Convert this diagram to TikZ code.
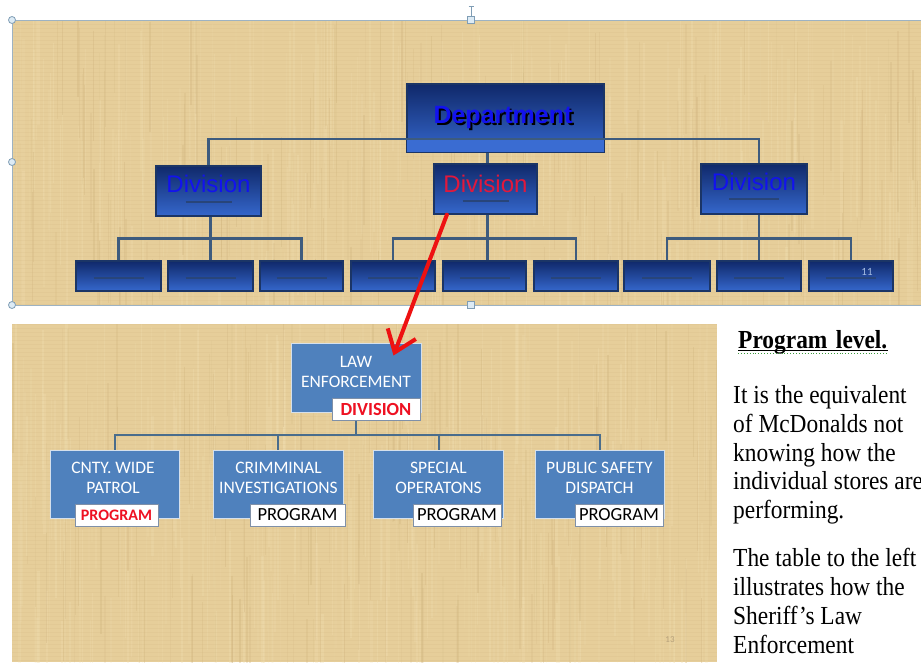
\documentclass[tikz,border=0pt]{standalone}
\usepackage{fontspec}
\setmainfont{Liberation Serif}
\newfontfamily\calfont{Carlito}
\newfontfamily\arialfont{Liberation Sans}
\usetikzlibrary{arrows.meta,calc}
\definecolor{paper}{HTML}{E6CE9A}
\definecolor{paperlight}{HTML}{F1DFB2}
\definecolor{paperdark}{HTML}{CDB07A}
\definecolor{navytop}{HTML}{10296A}
\definecolor{navybot}{HTML}{3567CC}
\definecolor{navyedge}{HTML}{1B3566}
\definecolor{deptstrip}{HTML}{3A6CD2}
\definecolor{topline}{HTML}{3D5B7E}
\definecolor{subline}{HTML}{28457A}
\definecolor{divblue}{HTML}{1212EE}
\definecolor{divred}{HTML}{E2183C}
\definecolor{stblue}{HTML}{4F81BD}
\definecolor{stedge}{HTML}{D5E0EC}
\definecolor{botline}{HTML}{4A6D8C}
\definecolor{lbledge}{HTML}{7F90A8}
\definecolor{lblred}{HTML}{EE1122}
\definecolor{arrowred}{HTML}{EE1111}
\definecolor{hdl}{HTML}{DDEBF5}
\definecolor{hdledge}{HTML}{7F9DB5}
\definecolor{frameedge}{HTML}{9DB2C2}
\definecolor{spell}{HTML}{3C9A3C}
\newcommand\mypaper[4]{%
  \begin{scope}
    \clip (#1,#2) rectangle (#3,#4);
    \fill[paper] (#1,#2) rectangle (#3,#4);
    \foreach \k in {1,...,320}{
      \pgfmathsetmacro\xx{#1+(#3-#1)*rnd}
      \pgfmathsetmacro\ww{0.5+2.0*rnd}
      \pgfmathsetmacro\oo{0.08+0.25*rnd}
      \pgfmathsetmacro\yy{#2-40+(#4-#2)*rnd}
      \draw[paperlight, line width=\ww pt, opacity=\oo] (\xx,\yy) -- (\xx,\yy+140);
    }
    \foreach \k in {1,...,160}{
      \pgfmathsetmacro\xx{#1+(#3-#1)*rnd}
      \pgfmathsetmacro\ww{0.5+1.5*rnd}
      \pgfmathsetmacro\oo{0.08+0.25*rnd}
      \pgfmathsetmacro\yy{#2-40+(#4-#2)*rnd}
      \draw[paperdark, line width=\ww pt, opacity=\oo] (\xx,\yy) -- (\xx,\yy+110);
    }
    \pgfmathtruncatemacro\nn{(#4-#2)/4}
    \foreach \j in {0,...,\nn}{
      \draw[paperdark, line width=0.6pt, opacity=0.14] (#1,#2+4*\j) -- (#3,#2+4*\j);
    }
  \end{scope}}
\begin{document}
\begin{tikzpicture}[x=1pt,y=-1pt,
  topbox/.style={draw=navyedge, line width=1.3pt, top color=navytop, bottom color=navybot, inner sep=0pt},
  divtext/.style={font=\arialfont\fontsize{24}{24}\selectfont, inner sep=0pt},
  boxline/.style={draw=subline, line width=1.8pt},
  tconn/.style={draw=topline, line width=2.4pt},
  bconn/.style={draw=botline, line width=2pt},
  stbox/.style={draw=stedge, line width=1pt, fill=stblue, inner sep=0pt},
  sttext/.style={font=\calfont\fontsize{17.5}{20}\selectfont, text=white, align=center, inner sep=0pt},
  lblbox/.style={draw=lbledge, line width=1pt, fill=white, inner sep=0pt, minimum height=22pt, font=\calfont\fontsize{18.5}{18.5}\selectfont},
  handlec/.style={circle, draw=hdledge, fill=hdl, line width=0.8pt, minimum size=7pt, inner sep=0pt},
  handles/.style={rectangle, draw=hdledge, fill=hdl, line width=0.8pt, minimum size=6.5pt, inner sep=0pt},
  bodytext/.style={anchor=base west, inner sep=0pt, font=\fontsize{26}{26}\selectfont}
]
\useasboundingbox (0,0) rectangle (921,662);
\fill[white] (0,0) rectangle (921,662);
\pgfmathsetseed{11}
% panels
\mypaper{12}{20}{921}{305}
\draw[frameedge, line width=0.8pt] (921,20) -- (12,20) -- (12,305) -- (921,305);
\mypaper{12}{324}{717}{662}

% ---- top chart ----
\coordinate (bus1) at (0,139);
\coordinate (bus2) at (0,238.5);
\node[topbox, minimum width=197pt, minimum height=68pt] (dept) at (505.5,118) {};
\fill[deptstrip] ($(dept.south west)+(0.7,-0.7)$) rectangle ($(dept.east |- bus1)+(-0.7,0)$);
\node[topbox, minimum width=105pt, minimum height=50pt] (d1) at (208.5,191) {};
\node[topbox, minimum width=103pt, minimum height=50pt] (d2) at (485.5,189) {};
\node[topbox, minimum width=106pt, minimum height=50pt] (d3) at (754,189) {};
\foreach \n/\cx/\w in {c1/118.5/85,c2/210.5/85,c3/301.5/83,c4/393/84,c5/484.5/83,c6/576/84,c7/667/86,c8/759/84,c9/851/84}{
  \node[topbox, minimum width=\w pt, minimum height=30pt] (\n) at (\cx,276) {};
  \draw[boxline] ($(\n.center)+(-25,2)$) -- ($(\n.center)+(25,2)$);
}
\node[font=\arialfont\bfseries\fontsize{25}{25}\selectfont, text=divblue, inner sep=0pt] (depttxt) at (503,118)
  {\makebox[0pt][l]{\raisebox{-2pt}{\hspace{2pt}\textcolor{black}{Department}}}Department};
\node[divtext, text=divblue] (d1t) at (208.5,184) {Division};
\node[divtext, text=divred] (d2t) at (485.5,184) {Division};
\node[divtext, text=divblue] (d3t) at (754,182) {Division};
\draw[boxline] ($(d1.center)+(-23,11)$) -- ($(d1.center)+(23,11)$);
\draw[boxline] ($(d2.center)+(-23,12)$) -- ($(d2.center)+(23,12)$);
\draw[boxline] ($(d3.center)+(-25,10)$) -- ($(d3.center)+(25,10)$);
\node[font=\calfont\fontsize{11}{11}\selectfont, text=stedge!70!navybot, inner sep=0pt] (pg11) at (867,272) {11};
% connectors top
\draw[tconn] (d1.north) -- (d1.north |- bus1) -- (c8.north |- bus1) -- (c8.north |- d3.north);
\draw[tconn] ($(c5.north |- dept.south)+(3,0)$) -- ($(c5.north |- d2.north)+(3,0)$);
\draw[tconn] (c1.north) -- (c1.north |- bus2) -- (c3.north |- bus2) -- (c3.north);
\draw[tconn] (c2.north |- d1.south) -- (c2.north);
\draw[tconn] (c4.north) -- (c4.north |- bus2) -- (c6.north |- bus2) -- (c6.north);
\draw[tconn] ($(c5.north |- d2.south)+(3,0)$) -- ($(c5.north)+(3,0)$);
\draw[tconn] (c7.north) -- (c7.north |- bus2) -- (c9.north |- bus2) -- (c9.north);
\draw[tconn] (c8.north |- d3.south) -- (c8.north);

% handles
\node[handlec] (h1) at (12,20) {};
\node[handlec] (h2) at (12,162) {};
\node[handlec] (h3) at (12,305) {};
\node[handles] (h4) at (471,20) {};
\node[handles] (h5) at (471,305) {};
\coordinate (rot) at (471,6);
\draw[hdledge, line width=0.8pt] (h4.north) -- (rot);
\draw[hdledge, line width=0.8pt] ($(rot)+(-2.5,0)$) -- ($(rot)+(2.5,0)$);

% ---- bottom chart ----
\coordinate (bus3) at (0,435);
\node[stbox, minimum width=130pt, minimum height=69pt] (le) at (356,377.5) {};
\node[stbox, minimum width=129pt, minimum height=68pt] (p1) at (114.5,484) {};
\node[stbox, minimum width=130pt, minimum height=68pt] (p2) at (278,484) {};
\node[stbox, minimum width=130pt, minimum height=68pt] (p3) at (438.5,484) {};
\node[stbox, minimum width=129pt, minimum height=68pt] (p4) at (599.5,484) {};
\draw[bconn] (le.south) -- (le.south |- bus3);
\draw[bconn] (p1.north) -- (p1.north |- bus3) -- (p4.north |- bus3) -- (p4.north);
\draw[bconn] (p2.north |- bus3) -- (p2.north);
\draw[bconn] (p3.north |- bus3) -- (p3.north);
\node[sttext] (let) at (356,372) {LAW\\ENFORCEMENT};
\node[sttext] (p1t) at (113,478) {CNTY. WIDE\\PATROL};
\node[sttext] (p2t) at (278.5,478) {CRIMMINAL\\INVESTIGATIONS};
\node[sttext] (p3t) at (438.5,478) {SPECIAL\\OPERATONS};
\node[sttext] (p4t) at (599.5,478) {PUBLIC SAFETY\\DISPATCH};
\node[lblbox, minimum width=88pt, text=lblred, font=\calfont\bfseries\fontsize{18.5}{18.5}\selectfont] (lel) at (376,409.5) {DIVISION};
\node[lblbox, minimum width=83pt, text=lblred, font=\calfont\bfseries\fontsize{16}{16}\selectfont] (l1) at (116.5,515) {PROGRAM};
\node[lblbox, minimum width=95pt, text=black] (l2) at (297.5,515) {PROGRAM};
\node[lblbox, minimum width=88pt, text=black] (l3) at (457,515) {PROGRAM};
\node[lblbox, minimum width=88pt, text=black] (l4) at (619,515) {PROGRAM};
\node[font=\calfont\fontsize{9}{9}\selectfont, text=paperdark!70!gray, inner sep=0pt] (pg13) at (670,640) {13};

% ---- red arrow ----
\coordinate (astart) at ($(d2.south west)!0.13!(d2.south east)$);
\coordinate (atip) at ($(le.north east)+(-28,13)$);
\draw[arrowred, line width=4pt, line cap=round, -{Straight Barb[length=20pt, width=30pt, line width=4pt]}] (astart) -- (atip);

% ---- right text ----
\node[anchor=base west, inner sep=0pt, font=\bfseries\fontsize{26}{26}\selectfont] (head) at (738,348) {\scalebox{0.9}[1]{Program\hspace{3pt} level.}};
\draw[black, line width=1.2pt] ($(head.base west)+(0,2.5)$) -- ($(head.base east)+(0,2.5)$);
\draw[spell, line width=0.9pt, dotted] ($(head.base west)+(0,5)$) -- ($(head.base east)+(0,5)$);
\node[bodytext] (t1) at (733,403) {\scalebox{0.9}[1]{It is the equivalent}};
\node[bodytext] (t2) at (733,432) {\scalebox{0.9}[1]{of McDonalds not}};
\node[bodytext] (t3) at (733,461) {\scalebox{0.9}[1]{knowing how the}};
\node[bodytext] (t4) at (733,489) {\scalebox{0.9}[1]{individual stores are}};
\node[bodytext] (t5) at (733,518) {\scalebox{0.9}[1]{performing.}};
\node[bodytext] (t6) at (733,566) {\scalebox{0.9}[1]{The table to the left}};
\node[bodytext] (t7) at (733,595) {\scalebox{0.9}[1]{illustrates how the}};
\node[bodytext] (t8) at (733,624) {\scalebox{0.9}[1]{Sheriff’s Law}};
\node[bodytext] (t9) at (733,653) {\scalebox{0.9}[1]{Enforcement}};
\end{tikzpicture}
\end{document}
